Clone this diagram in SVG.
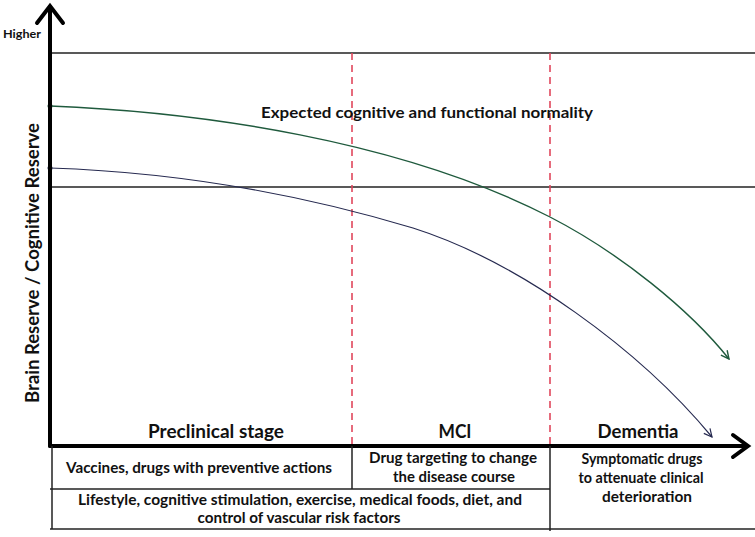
<svg xmlns="http://www.w3.org/2000/svg" width="755" height="537" viewBox="0 0 755 537">
<defs>
<style>
text{font-family:Lato,"Liberation Sans",sans-serif;font-weight:bold;fill:#111;text-anchor:middle}
.axis{stroke:#000;stroke-width:4;fill:none;stroke-linecap:round;stroke-linejoin:miter}
.thin{stroke:#222;stroke-width:1.5;fill:none}
.dash{stroke:#e0475c;stroke-width:1.6;stroke-dasharray:7,5;fill:none}
.green{stroke:#1f5a3d;stroke-width:1.4;fill:none}
.navy{stroke:#262a50;stroke-width:1.2;fill:none}
</style>
<marker id="ag" viewBox="0 0 10 10" refX="9" refY="5" markerWidth="10" markerHeight="10" markerUnits="userSpaceOnUse" orient="auto"><path d="M1,1 L9,5 L1,9" fill="none" stroke="#1f5a3d" stroke-width="1.4"/></marker>
<marker id="an" viewBox="0 0 10 10" refX="9" refY="5" markerWidth="10" markerHeight="10" markerUnits="userSpaceOnUse" orient="auto"><path d="M1,1 L9,5 L1,9" fill="none" stroke="#262a50" stroke-width="1.2"/></marker>
</defs>
<rect width="755" height="537" fill="#fff"/>
<g id="connectors">
<line class="thin" x1="50" y1="53" x2="755" y2="53"/>
<line class="thin" x1="50" y1="187" x2="755" y2="187"/>
<line class="dash" x1="352" y1="53" x2="352" y2="446"/>
<line class="dash" x1="550" y1="53" x2="550" y2="446"/>
<path class="green" d="M50,106 C200,112 400,140 550,217 C620,253 690,310 729,359" marker-end="url(#ag)"/>
<path class="navy" d="M50,168 C200,173 320,200 413,228 C520,262 640,350 712,437" marker-end="url(#an)"/>
<circle cx="50" cy="106" r="2.5" fill="#1f5a3d"/>
<circle cx="50" cy="168" r="2.5" fill="#262a50"/>
</g>
<g id="axes">
<line class="axis" x1="50" y1="446" x2="50" y2="7"/>
<polyline class="axis" points="37,23 50,6 63,23"/>
<line class="axis" x1="50" y1="446" x2="746" y2="446"/>
<polyline class="axis" points="733,435 748,446 733,457"/>
<text x="22" y="38" font-size="12" textLength="38" lengthAdjust="spacingAndGlyphs">Higher</text>
<text transform="translate(39,263) rotate(-90)" x="0" y="0" font-size="19" textLength="280" lengthAdjust="spacingAndGlyphs">Brain Reserve / Cognitive Reserve</text>
</g>
<g id="normality">
<text x="427" y="118" font-size="16" textLength="332" lengthAdjust="spacingAndGlyphs">Expected cognitive and functional normality</text>
</g>
<g id="stages">
<text x="216" y="438" font-size="18" textLength="136" lengthAdjust="spacingAndGlyphs">Preclinical stage</text>
<text x="455" y="438" font-size="18" textLength="33" lengthAdjust="spacingAndGlyphs">MCI</text>
<text x="638" y="438" font-size="18" textLength="81" lengthAdjust="spacingAndGlyphs">Dementia</text>
</g>
<g id="table">
<line class="thin" x1="52" y1="446" x2="52" y2="529"/>
<line class="thin" x1="352" y1="446" x2="352" y2="489"/>
<line class="thin" x1="550" y1="446" x2="550" y2="531"/>
<line class="thin" x1="50" y1="489" x2="550" y2="489"/>
<line class="thin" x1="50" y1="529" x2="755" y2="529"/>
</g>
<g id="cell-vaccines">
<text x="199" y="473" font-size="14.5" textLength="266" lengthAdjust="spacingAndGlyphs">Vaccines, drugs with preventive actions</text>
</g>
<g id="cell-drug">
<text x="453" y="463" font-size="14.5" textLength="168" lengthAdjust="spacingAndGlyphs">Drug targeting to change</text>
<text x="454" y="482" font-size="14.5" textLength="122" lengthAdjust="spacingAndGlyphs">the disease course</text>
</g>
<g id="cell-symptomatic">
<text x="642" y="464" font-size="14.5" textLength="121" lengthAdjust="spacingAndGlyphs">Symptomatic drugs</text>
<text x="641" y="483" font-size="14.5" textLength="125" lengthAdjust="spacingAndGlyphs">to attenuate clinical</text>
<text x="647" y="502" font-size="14.5" textLength="90" lengthAdjust="spacingAndGlyphs">deterioration</text>
</g>
<g id="cell-lifestyle">
<text x="300" y="505" font-size="14.5" textLength="444" lengthAdjust="spacingAndGlyphs">Lifestyle, cognitive stimulation, exercise, medical  foods, diet, and</text>
<text x="299" y="523" font-size="14.5" textLength="203" lengthAdjust="spacingAndGlyphs">control of vascular risk factors</text>
</g>
</svg>
